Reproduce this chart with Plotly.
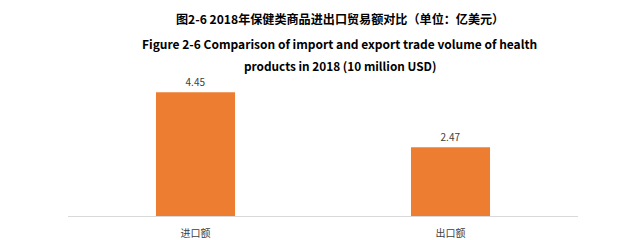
import plotly.graph_objects as go

categories = ["进口额", "出口额"]
values = [4.45, 2.47]
value_labels = ["4.45", "2.47"]

title_lines = [
    "图2-6 2018年保健类商品进出口贸易额对比（单位：亿美元）",
    "Figure 2-6 Comparison of import and export trade volume of health",
    "products in 2018 (10 million USD)",
]

FONT = "Noto Sans CJK SC, Noto Sans, sans-serif"

fig = go.Figure(go.Bar(
    x=categories, y=values,
    text=value_labels, textposition="outside",
    textfont=dict(size=10, color="#404040", family=FONT),
    marker=dict(color="#ED7D31", line=dict(width=0)),
    cliponaxis=False,
))

# pixel geometry: plot area top 77, bottom 216 (height 139)
H = 139.0
def py(pix):
    return (216 - pix) / H

sizes = [12.1, 12.0, 11.8]
ypix = [19, 44, 65]
for t, s, yp in zip(title_lines, sizes, ypix):
    fig.add_annotation(text="<b>" + t + "</b>", xref="paper", yref="paper",
                       x=0.533, y=py(yp), xanchor="center", yanchor="middle",
                       showarrow=False, font=dict(size=s, color="#000000", family=FONT))

fig.update_layout(
    width=640, height=240,
    margin=dict(l=68, r=62, t=77, b=24, autoexpand=False),
    paper_bgcolor="white", plot_bgcolor="white",
    bargap=0.69,
    showlegend=False,
    xaxis=dict(showline=True, linecolor="#D9D9D9", linewidth=1, ticks="",
               ticklabelstandoff=8, automargin=False,
               tickfont=dict(size=10, color="#404040", family=FONT), showgrid=False),
    yaxis=dict(range=[0, 5], visible=False, showgrid=False, zeroline=False,
               automargin=False),
)

fig.write_html("out.html")
